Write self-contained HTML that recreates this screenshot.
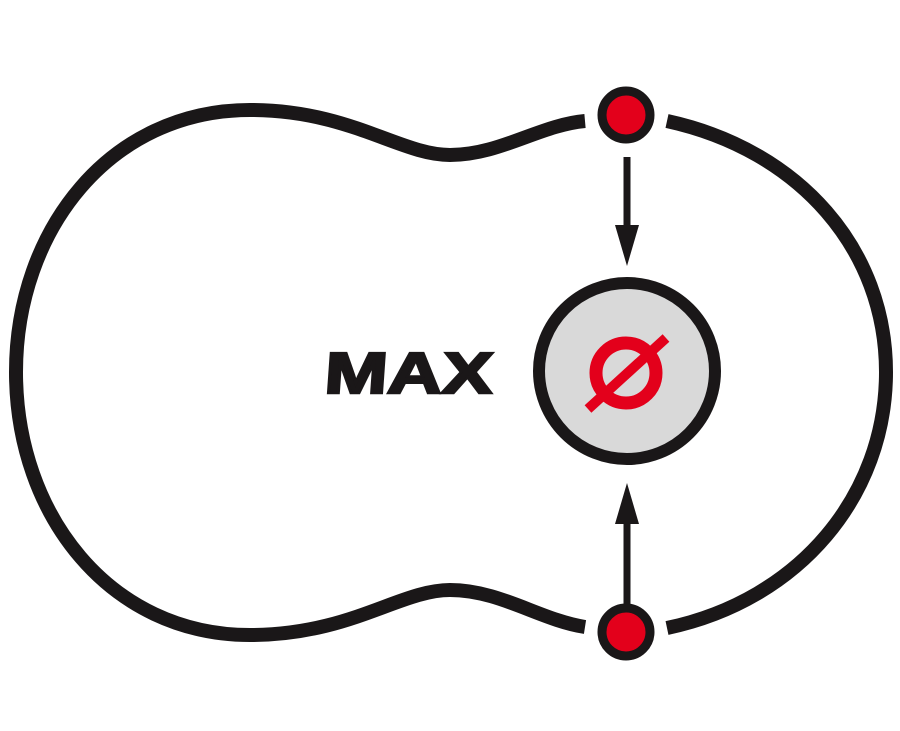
<!DOCTYPE html>
<html><head><meta charset="utf-8"><style>html,body{margin:0;padding:0;background:#fff}svg{display:block}</style></head>
<body>
<svg width="900" height="731" viewBox="0 0 900 731" xmlns="http://www.w3.org/2000/svg">
<g fill="none" stroke="#1a1718" stroke-width="14">
<path d="M585,121 C540,125 500,155 450,155 C400,155 350,110 250,110 C110,110 16,230 16,372 C16,515 110,635 250,635 C350,635 400,590 450,590 C500,590 540,620 585,627"/>
<path d="M667,121 C800,150 886,250 886,372 C886,495 800,600 667,628"/>
</g>
<circle cx="626" cy="115" r="24" fill="#e3001b" stroke="#1a1718" stroke-width="9"/>
<circle cx="626" cy="632" r="24" fill="#e3001b" stroke="#1a1718" stroke-width="9"/>
<line x1="627" y1="157" x2="627" y2="232" stroke="#1a1718" stroke-width="7"/>
<polygon points="615,225 639,225 627,266" fill="#1a1718"/>
<line x1="627" y1="605" x2="627" y2="518" stroke="#1a1718" stroke-width="7"/>
<polygon points="615,524 639,524 627,483" fill="#1a1718"/>
<circle cx="627" cy="371" r="88" fill="#d9d9d9" stroke="#1a1718" stroke-width="12"/>
<circle cx="626" cy="373" r="30" fill="none" stroke="#e3001b" stroke-width="13"/>
<line x1="588" y1="409" x2="666" y2="338" stroke="#e3001b" stroke-width="10"/>
<text x="325" y="393" font-family="Liberation Sans, sans-serif" font-weight="bold" font-size="58" fill="#1a1718" stroke="#1a1718" stroke-width="2.5" textLength="168" lengthAdjust="spacingAndGlyphs" transform="skewX(-4) translate(26,0)">MAX</text>
</svg>
</body></html>
